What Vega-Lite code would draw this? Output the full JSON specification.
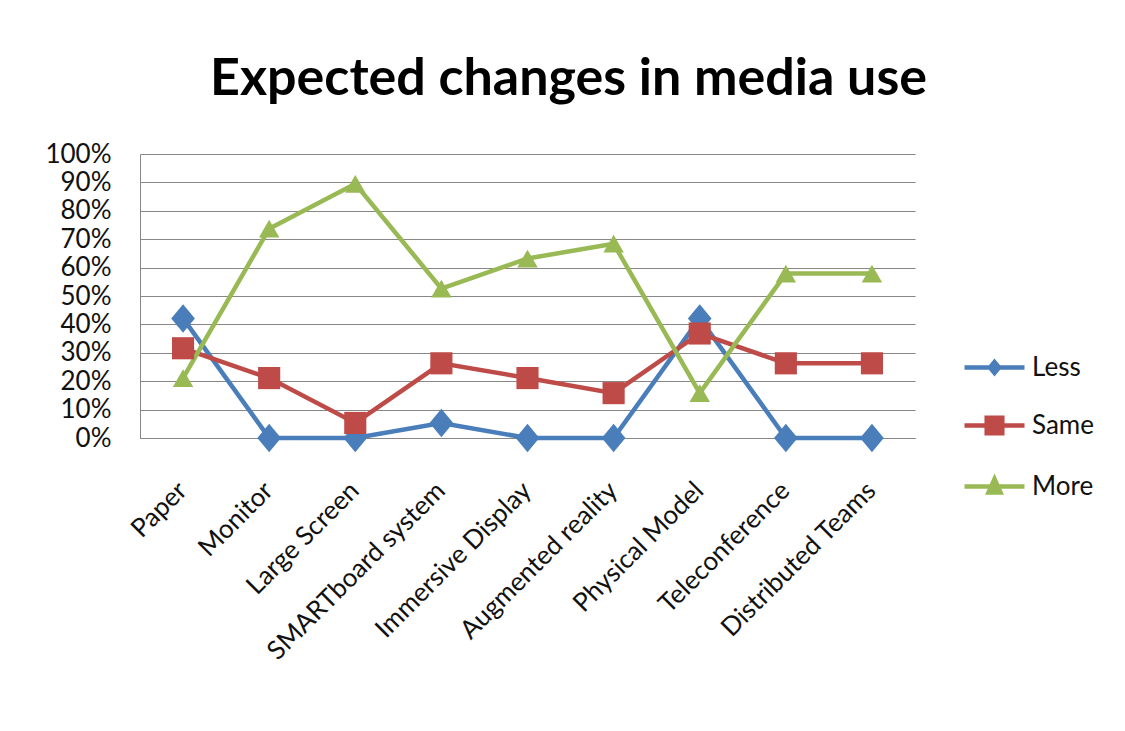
{
  "$schema": "https://vega.github.io/schema/vega-lite/v6.json",
  "width": 775,
  "height": 284,
  "autosize": {"type": "none"},
  "padding": {"left": 140, "top": 154, "right": 210, "bottom": 293},
  "background": "white",
  "title": {
    "text": "Expected changes in media use",
    "font": "Lato",
    "fontSize": 52,
    "fontWeight": "bold",
    "color": "#000000",
    "anchor": "middle",
    "dx": 41,
    "baseline": "alphabetic",
    "offset": -6
  },
  "data": {
    "values": [
      {"cat": "Paper", "series": "Less", "value": 0.421},
      {"cat": "Monitor", "series": "Less", "value": 0},
      {"cat": "Large Screen", "series": "Less", "value": 0},
      {"cat": "SMARTboard system", "series": "Less", "value": 0.053},
      {"cat": "Immersive Display", "series": "Less", "value": 0},
      {"cat": "Augmented reality", "series": "Less", "value": 0},
      {"cat": "Physical Model", "series": "Less", "value": 0.421},
      {"cat": "Teleconference", "series": "Less", "value": 0},
      {"cat": "Distributed Teams", "series": "Less", "value": 0},
      {"cat": "Paper", "series": "Same", "value": 0.316},
      {"cat": "Monitor", "series": "Same", "value": 0.211},
      {"cat": "Large Screen", "series": "Same", "value": 0.053},
      {"cat": "SMARTboard system", "series": "Same", "value": 0.263},
      {"cat": "Immersive Display", "series": "Same", "value": 0.211},
      {"cat": "Augmented reality", "series": "Same", "value": 0.158},
      {"cat": "Physical Model", "series": "Same", "value": 0.368},
      {"cat": "Teleconference", "series": "Same", "value": 0.263},
      {"cat": "Distributed Teams", "series": "Same", "value": 0.263},
      {"cat": "Paper", "series": "More", "value": 0.211},
      {"cat": "Monitor", "series": "More", "value": 0.737},
      {"cat": "Large Screen", "series": "More", "value": 0.895},
      {"cat": "SMARTboard system", "series": "More", "value": 0.526},
      {"cat": "Immersive Display", "series": "More", "value": 0.632},
      {"cat": "Augmented reality", "series": "More", "value": 0.684},
      {"cat": "Physical Model", "series": "More", "value": 0.158},
      {"cat": "Teleconference", "series": "More", "value": 0.579},
      {"cat": "Distributed Teams", "series": "More", "value": 0.579}
    ]
  },
  "config": {
    "view": {"stroke": null},
    "axis": {
      "title": null,
      "labelFont": "Lato",
      "labelColor": "#111111",
      "domainColor": "#878787",
      "domainWidth": 1,
      "gridColor": "#878787",
      "gridWidth": 1,
      "ticks": false,
      "tickSize": 0
    },
    "legend": {
      "labelFont": "Lato",
      "labelColor": "#111111"
    }
  },
  "encoding": {
    "x": {
      "field": "cat",
      "type": "nominal",
      "sort": null,
      "scale": {"type": "point", "padding": 0.5},
      "axis": {
        "labelAngle": -45,
        "labelFontSize": 26,
        "labelPadding": 39,
        "labelOffset": -10,
        "labelLimit": 400,
        "grid": false
      }
    },
    "y": {
      "field": "value",
      "type": "quantitative",
      "scale": {"domain": [0, 1], "nice": false},
      "axis": {
        "values": [0, 0.1, 0.2, 0.3, 0.4, 0.5, 0.6, 0.7, 0.8, 0.9, 1],
        "format": ".0%",
        "labelFontSize": 26,
        "labelPadding": 29,
        "grid": true
      }
    }
  },
  "layer": [
    {
      "mark": {"type": "line", "strokeWidth": 4.5},
      "encoding": {
        "stroke": {
          "field": "series",
          "type": "nominal",
          "scale": {"domain": ["Less", "Same", "More"], "range": ["#4A7EBB", "#BE4B48", "#98B954"]},
          "legend": {
            "title": null,
            "orient": "none",
            "legendX": 822,
            "legendY": 181,
            "symbolType": "stroke",
            "symbolSize": 3600,
            "symbolStrokeWidth": 4.5,
            "rowPadding": 11,
            "labelFontSize": 26,
            "labelOffset": 5,
            "padding": 0,
            "encode": {
              "symbols": {
                "update": {
                  "shape": {"signal": "datum.value === 'Less' ? 'M-1,0H1M-0.15,0L0,-0.18L0.15,0L0,0.18Z' : datum.value === 'Same' ? 'M-1,0H1M-0.26,-0.26H0.26V0.26H-0.26Z' : 'M-1,0H1M0,-0.25L0.2,0.2H-0.2Z'"},
                  "fill": {"signal": "scale('stroke', datum.value)"},
                  "stroke": {"signal": "scale('stroke', datum.value)"},
                  "strokeWidth": {"value": 4.5},
                  "opacity": {"value": 1}
                }
              }
            }
          }
        }
      }
    },
    {
      "mark": {"type": "point", "filled": true, "opacity": 1, "strokeWidth": 0},
      "encoding": {
        "fill": {
          "field": "series",
          "type": "nominal",
          "scale": {"domain": ["More", "Same", "Less"], "range": ["#98B954", "#BE4B48", "#4A7EBB"]},
          "legend": null
        },
        "shape": {
          "field": "series",
          "type": "nominal",
          "scale": {"domain": ["More", "Same", "Less"], "range": ["triangle-up", "square", "M-1,0L0,-1.2L1,0L0,1.2Z"]},
          "legend": null
        },
        "size": {
          "field": "series",
          "type": "nominal",
          "scale": {"domain": ["More", "Same", "Less"], "range": [420, 560, 400]},
          "legend": null
        }
      }
    }
  ]
}
